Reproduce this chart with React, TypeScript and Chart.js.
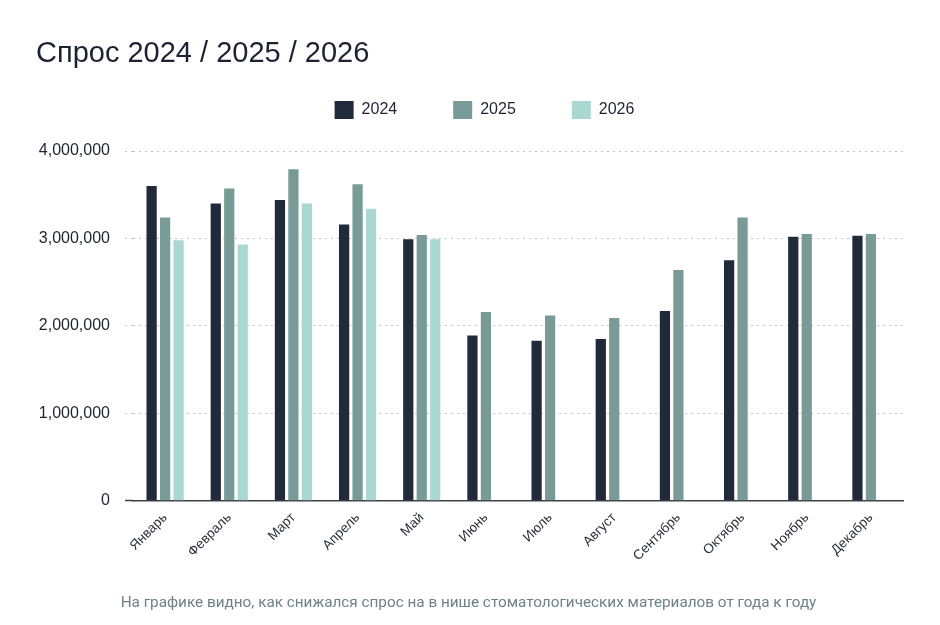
import React, { useEffect, useRef } from 'react';
import { Chart, registerables } from 'chart.js';
import type { ChartOptions } from 'chart.js';

Chart.register(...registerables);

const months = ['Январь', 'Февраль', 'Март', 'Апрель', 'Май', 'Июнь', 'Июль', 'Август', 'Сентябрь', 'Октябрь', 'Ноябрь', 'Декабрь'];
const demand2024 = [3600000, 3400000, 3440000, 3160000, 2990000, 1890000, 1830000, 1850000, 2170000, 2750000, 3020000, 3030000];
const demand2025 = [3240000, 3570000, 3790000, 3620000, 3040000, 2160000, 2120000, 2090000, 2640000, 3240000, 3050000, 3050000];
const demand2026 = [2980000, 2930000, 3400000, 3340000, 2990000, null, null, null, null, null, null, null];
const yTicks = [0, 1000000, 2000000, 3000000, 4000000];

const FONT = "'Liberation Sans', Arial, sans-serif";

// legend needs extra room below it and a little nudge to the right
const legendSpacing = {
  id: 'legendSpacing',
  beforeInit(chart: any) {
    const fit = chart.legend.fit;
    chart.legend.fit = function () {
      fit.bind(chart.legend)();
      this.height += 22;
    };
  },
  afterLayout(chart: any) {
    chart.legend.left += 15;
    chart.legend.right += 15;
  },
};

const App: React.FC = () => {
  const canvasRef = useRef<HTMLCanvasElement>(null);

  useEffect(() => {
    if (!canvasRef.current) return;

    const options: ChartOptions<'bar'> = {
      responsive: true,
      maintainAspectRatio: false,
      animation: false,
      layout: { padding: { left: 36, right: 37, top: 45, bottom: 52 } },
      plugins: {
        legend: {
          position: 'top',
          labels: {
            boxWidth: 19,
            boxHeight: 18,
            padding: 56,
            color: '#1f2430',
            font: { size: 16, family: FONT },
          },
        },
        tooltip: { enabled: false },
      },
      scales: {
        x: {
          grid: { display: false, drawTicks: false },
          border: { display: true, color: '#3a404b', width: 1.5 },
          ticks: {
            color: '#2a2f3a',
            font: { size: 13.5, family: FONT },
            minRotation: 45,
            maxRotation: 45,
            padding: 9,
            autoSkip: false,
          },
        },
        y: {
          min: 0,
          max: 4000000,
          afterFit: (scale: any) => {
            scale.width = 97;
          },
          afterBuildTicks: (scale: any) => {
            scale.ticks = yTicks.map((v) => ({ value: v }));
          },
          grid: {
            color: (ctx: any) => (ctx.tick && ctx.tick.value === 0 ? 'rgba(0,0,0,0)' : '#c2c5c9'),
            lineWidth: 1,
            drawTicks: true,
            tickLength: 8,
            tickColor: (ctx: any) => (ctx.tick && ctx.tick.value === 0 ? '#3a404b' : '#c2c5c9'),
            tickWidth: (ctx: any) => (ctx.tick && ctx.tick.value === 0 ? 1.5 : 1),
            tickBorderDash: (ctx: any) => (ctx.tick && ctx.tick.value === 0 ? [] : [2, 4]),
          },
          border: { display: false, dash: [2, 4] },
          ticks: {
            color: '#1f2430',
            font: { size: 16, family: FONT },
            padding: 15,
            callback: (value) => Number(value).toLocaleString('en-US'),
          },
        },
      },
    };

    const chart = new Chart(canvasRef.current, {
      type: 'bar',
      data: {
        labels: months,
        datasets: [
          {
            label: '2024',
            data: demand2024,
            backgroundColor: '#212a3b',
            categoryPercentage: 0.63,
            barPercentage: 0.76,
          },
          {
            label: '2025',
            data: demand2025,
            backgroundColor: '#789b98',
            categoryPercentage: 0.63,
            barPercentage: 0.76,
          },
          {
            label: '2026',
            data: demand2026,
            backgroundColor: '#aad8d0',
            categoryPercentage: 0.63,
            barPercentage: 0.76,
          },
        ],
      },
      options,
      plugins: [legendSpacing],
    });

    return () => {
      chart.destroy();
    };
  }, []);

  return (
    <div style={{ position: 'absolute', left: 0, top: 0, width: 940, height: 625, background: '#fff' }}>
      <div
        style={{
          position: 'absolute',
          left: 36,
          top: 38,
          fontFamily: FONT,
          fontSize: 29,
          lineHeight: 1,
          color: '#1c2232',
          whiteSpace: 'nowrap',
        }}
      >
        Спрос 2024 / 2025 / 2026
      </div>
      <canvas ref={canvasRef}></canvas>
      <div
        style={{
          position: 'absolute',
          left: 0,
          top: 595,
          width: 937,
          textAlign: 'center',
          fontFamily: "Roboto, 'Noto Sans', sans-serif",
          fontSize: 15.3,
          lineHeight: 1,
          color: '#6f8087',
          whiteSpace: 'nowrap',
        }}
      >
        На графике видно, как снижался спрос на в нише стоматологических материалов от года к году
      </div>
    </div>
  );
};

export default App;
